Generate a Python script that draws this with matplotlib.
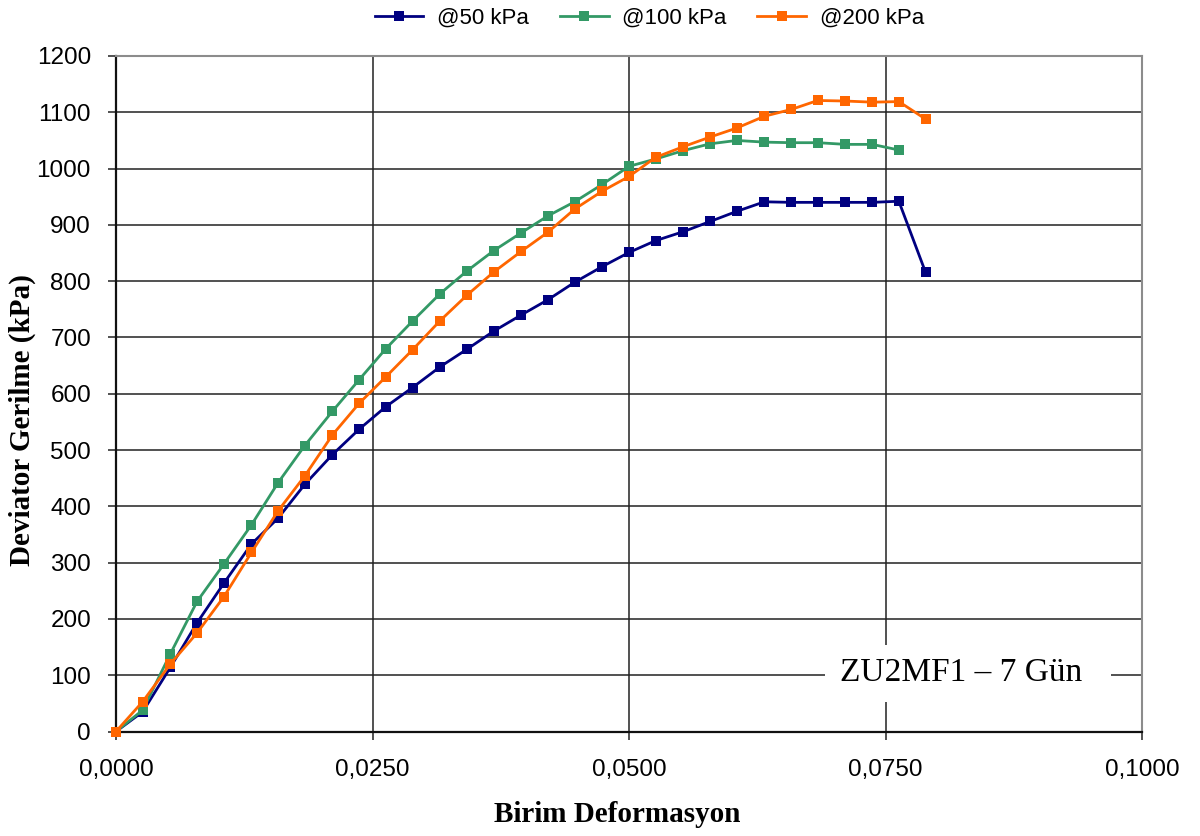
import matplotlib
matplotlib.use("Agg")
import matplotlib.pyplot as plt
from matplotlib.patches import Rectangle
from matplotlib.ticker import FuncFormatter, MultipleLocator

# Strain values (Birim Deformasyon)
strain = [0.0000, 0.0026, 0.0053, 0.0079, 0.0105, 0.0132, 0.0158, 0.0184,
          0.0211, 0.0237, 0.0263, 0.0289, 0.0316, 0.0342, 0.0368, 0.0395,
          0.0421, 0.0447, 0.0474, 0.0500, 0.0526, 0.0553, 0.0579, 0.0605,
          0.0632, 0.0658, 0.0684, 0.0711, 0.0737, 0.0763, 0.0789]

# Deviator stress (kPa) for each confining pressure
dev_50 = [0, 35, 114, 193, 263, 333, 379, 439, 492, 537, 577, 611, 648,
          679, 711, 740, 767, 798, 826, 851, 872, 888, 906, 924, 941, 940,
          940, 940, 940, 942, 816]
dev_100 = [0, 38, 138, 231, 297, 367, 442, 508, 569, 625, 680, 729, 778,
           818, 854, 886, 916, 941, 972, 1004, 1017, 1032, 1044, 1050, 1047,
           1046, 1046, 1043, 1043, 1033]
dev_200 = [0, 53, 120, 175, 239, 318, 392, 454, 527, 583, 630, 678, 730,
           775, 816, 853, 887, 928, 960, 986, 1020, 1039, 1056, 1072, 1093,
           1105, 1121, 1120, 1118, 1119, 1088]

series = [
    ("@50 kPa", dev_50, "#000080"),
    ("@100 kPa", dev_100, "#339966"),
    ("@200 kPa", dev_200, "#FF6600"),
]

fig = plt.figure(figsize=(12, 8.36), dpi=100)
ax = fig.add_axes([116 / 1200, 1 - 731.5 / 836, 1026 / 1200, 675.5 / 836])

for label, vals, color in series:
    ax.plot(strain[:len(vals)], vals, color=color, lw=2.0, marker="s",
            markersize=7, markeredgewidth=0, label=label, zorder=3,
            clip_on=False)

ax.set_xlim(0, 0.1)
ax.set_ylim(0, 1200)
ax.xaxis.set_major_locator(MultipleLocator(0.025))
ax.yaxis.set_major_locator(MultipleLocator(100))
ax.xaxis.set_major_formatter(FuncFormatter(lambda v, p: f"{v:.4f}".replace(".", ",")))
ax.yaxis.set_major_formatter(FuncFormatter(lambda v, p: f"{v:.0f}"))

ax.grid(True, color="#222222", lw=1.1, zorder=1)
ax.set_axisbelow(True)
for side in ("top", "right"):
    ax.spines[side].set_color("#8c8c8c")
    ax.spines[side].set_linewidth(1.5)
for side in ("left", "bottom"):
    ax.spines[side].set_color("#111111")
    ax.spines[side].set_linewidth(1.6)

ax.tick_params(axis="both", direction="out", length=6, width=1.1,
               color="#222222", labelsize=17.5)
ax.tick_params(axis="x", pad=14)
ax.tick_params(axis="y", pad=12)
for t in ax.get_xticklabels() + ax.get_yticklabels():
    t.set_fontfamily("Liberation Sans")

ax.set_xlabel("Birim Deformasyon", fontfamily="Liberation Serif",
              fontweight="bold", fontsize=21)
ax.set_ylabel("Deviator Gerilme (kPa)", fontfamily="Liberation Serif",
              fontweight="bold", fontsize=21)
ax.xaxis.set_label_coords(0.489, -0.1236)
ax.yaxis.set_label_coords(-0.0916, 0.461)
ax.xaxis.label.set_va("center")
ax.yaxis.label.set_va("center")

# Sample label on a white patch over the grid
ax.add_patch(Rectangle((0.691, 0.0437), 0.279, 0.085, transform=ax.transAxes,
                       facecolor="white", edgecolor="none", zorder=2))
ax.text(0.8236, 0.0866, "ZU2MF1 \u2013 7 G\u00fcn", transform=ax.transAxes,
        ha="center", va="center", fontfamily="Liberation Serif",
        fontsize=24, zorder=4)

fig.legend(loc="center", bbox_to_anchor=(0.541, 0.978), ncol=3,
           frameon=False, prop={"family": "Liberation Sans", "size": 16},
           handlelength=2.2, columnspacing=1.4, handletextpad=0.6)

fig.savefig("out.png", dpi=100, facecolor="white")
